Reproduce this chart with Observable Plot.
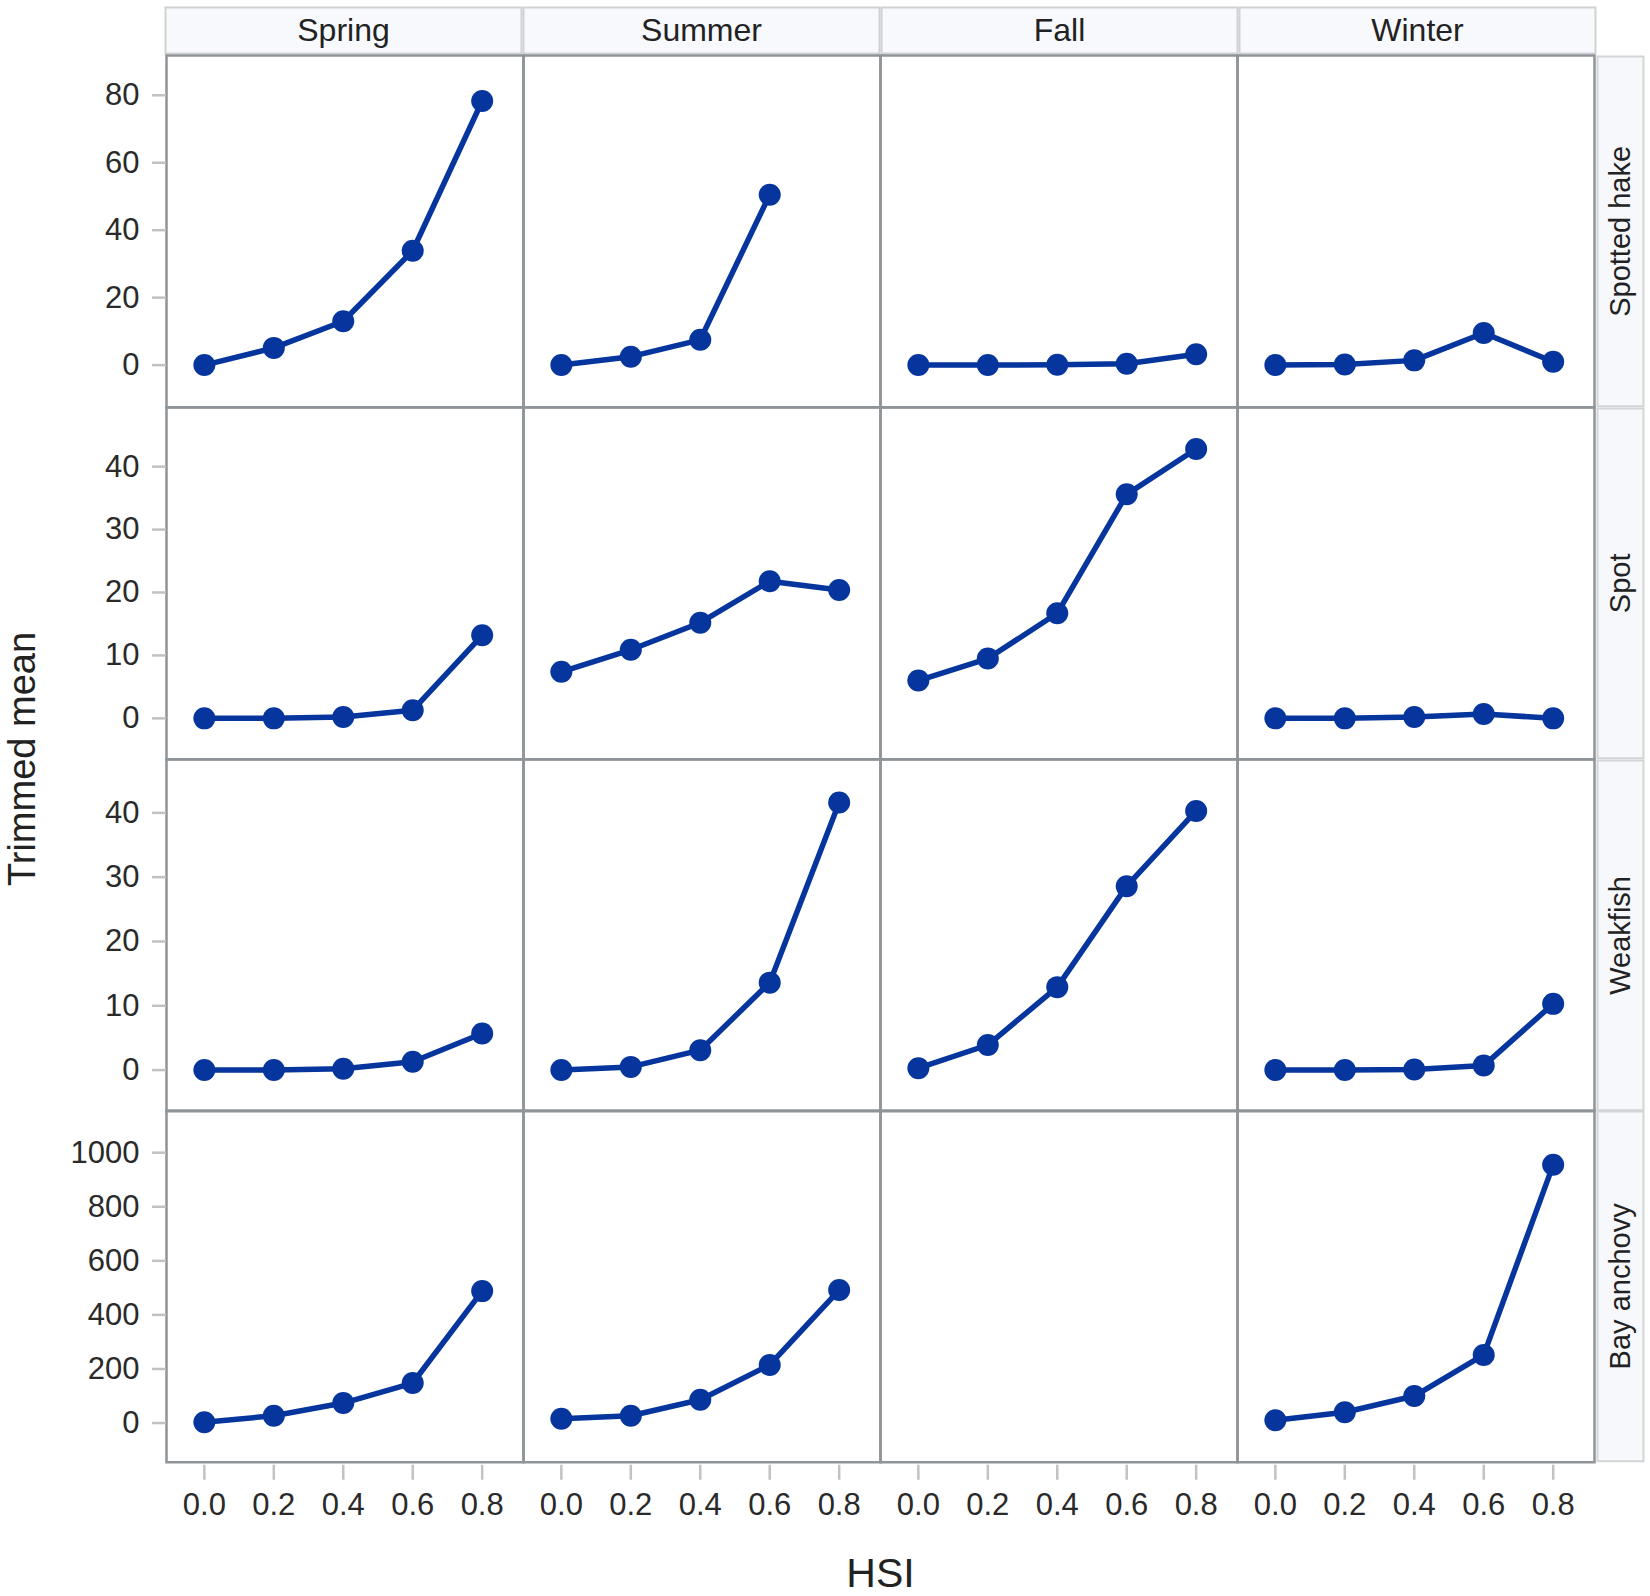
<!DOCTYPE html>
<html>
<head>
<meta charset="utf-8">
<script src="https://cdn.jsdelivr.net/npm/d3@7"></script>
<script src="https://cdn.jsdelivr.net/npm/@observablehq/plot@0.6"></script>
<style>
  body { margin: 0; background: #fff; }
  #chart { position: relative; width: 1650px; height: 1596px; background: #fff; overflow: hidden; }
  #chart > svg { position: absolute; }
</style>
</head>
<body>
<div id="chart"></div>
<script>
// ---------------- data ----------------
const seasons = ["Spring", "Summer", "Fall", "Winter"];
const species = ["Spotted hake", "Spot", "Weakfish", "Bay anchovy"];
const hsi = [0.0, 0.2, 0.4, 0.6, 0.8];
const xTicks = [0.0, 0.2, 0.4, 0.6, 0.8];

// Trimmed mean by HSI; one inner array per season (Spring, Summer, Fall, Winter)
const spottedHake = [
  [0, 5.1, 13.0, 33.9, 78.3],
  [0, 2.5, 7.5, 50.5, null],
  [0, 0, 0.1, 0.4, 3.2],
  [0, 0.2, 1.4, 9.5, 1.0]
];
const spot = [
  [0, 0, 0.2, 1.3, 13.2],
  [7.4, 10.9, 15.2, 21.8, 20.4],
  [6.0, 9.5, 16.7, 35.6, 42.8],
  [0, 0, 0.2, 0.7, 0]
];
const weakfish = [
  [0, 0, 0.2, 1.3, 5.7],
  [0, 0.5, 3.1, 13.6, 41.6],
  [0.3, 3.9, 12.9, 28.6, 40.3],
  [0, 0, 0.1, 0.7, 10.3]
];
const bayAnchovy = [
  [3, 27, 74, 148, 488],
  [16, 27, 86, 215, 492],
  [null, null, null, null, null],
  [10, 40, 100, 252, 955]
];

const ticksSpottedHake = [0, 20, 40, 60, 80];
const ticksSpot = [0, 10, 20, 30, 40];
const ticksWeakfish = [0, 10, 20, 30, 40];
const ticksBayAnchovy = [0, 200, 400, 600, 800, 1000];

const xLabel = "HSI";
const yLabel = "Trimmed mean";

// ---------------- layout / style ----------------
const rows = [
  {name: species[0], values: spottedHake, ticks: ticksSpottedHake, domain: [-12.5, 91.8]},
  {name: species[1], values: spot,        ticks: ticksSpot,        domain: [-6.5, 49.4]},
  {name: species[2], values: weakfish,    ticks: ticksWeakfish,    domain: [-6.4, 48.3]},
  {name: species[3], values: bayAnchovy,  ticks: ticksBayAnchovy,  domain: [-145, 1156]}
];

const W = 1650, H = 1596;
const left = 165, plotW = 1596, top0 = 55, rowH = 351.75;
const blue = "#05359d";
const font = "'Liberation Sans', Arial, sans-serif";
const baseStyle = {fontFamily: font, background: "transparent", overflow: "visible", maxWidth: "none"};
const chart = document.getElementById("chart");

function place(svg, x, y) {
  svg.style.left = x + "px";
  svg.style.top = y + "px";
  chart.appendChild(svg);
}

// column headers
place(Plot.plot({
  width: plotW, height: 55,
  marginLeft: left, marginRight: 1, marginTop: 7, marginBottom: 2,
  fx: {domain: seasons, padding: 0.006, axis: null},
  style: baseStyle,
  marks: [
    Plot.frame({fill: "#f8f9fd", stroke: "#cfd1d5", strokeWidth: 2}),
    Plot.text(seasons, {fx: d => d, text: d => d, frameAnchor: "middle", fontSize: 32, fill: "#222"})
  ]
}), 0, 0);

// panel rows
rows.forEach((r, i) => {
  const last = i === rows.length - 1;
  const top = top0 + i * rowH - 2;
  const height = last ? H - top : rowH + 4;
  const data = [];
  seasons.forEach((s, j) => r.values[j].forEach((v, k) => {
    if (v != null) data.push({season: s, hsi: hsi[k], value: v});
  }));
  const marks = [
    Plot.frame({stroke: "#8f9499", strokeWidth: 2.5, facetAnchor: "bottom"}),
    Plot.axisY({ticks: r.ticks, tickFormat: d => String(d), tickSize: 14, tickPadding: 13, stroke: "#c2c2c2", strokeWidth: 2.5,
      fill: "#2a2a2a", fontSize: 31, label: null, facetAnchor: "left"}),
    Plot.line(data, {fx: "season", x: "hsi", y: "value", stroke: blue, strokeWidth: 5.5}),
    Plot.dot(data, {fx: "season", x: "hsi", y: "value", r: 11, fill: blue})
  ];
  if (last) {
    marks.push(Plot.axisX({ticks: xTicks, tickFormat: d3.format(".1f"), tickSize: 15, tickPadding: 13, dy: 3,
      stroke: "#c2c2c2", strokeWidth: 2.5, fill: "#2a2a2a", fontSize: 31, label: null, facetAnchor: "bottom"}));
  }
  const svg = Plot.plot({
    width: plotW, height,
    marginLeft: left, marginRight: 1, marginTop: 2, marginBottom: height - rowH - 2,
    fx: {domain: seasons, padding: 0, axis: null},
    x: {domain: [-0.109, 0.919], axis: null},
    y: {domain: r.domain},
    style: baseStyle,
    marks
  });
  place(svg, 0, top);

  // row strip on the right
  place(Plot.plot({
    width: 48, height: rowH, margin: 0,
    style: baseStyle,
    marks: [
      Plot.frame({fill: "#f7f8fc", stroke: "#d2d4d8", strokeWidth: 2, inset: 1}),
      Plot.text([r.name], {text: d => d, frameAnchor: "middle", rotate: -90, fontSize: 29, fill: "#222"})
    ]
  }), plotW, top0 + i * rowH);
});

// y title
place(Plot.plot({
  width: 44, height: rowH * 4, margin: 0, style: baseStyle,
  marks: [Plot.text([yLabel], {text: d => d, frameAnchor: "middle", rotate: -90, fontSize: 38, fill: "#222"})]
}), 0, top0);

// x title
place(Plot.plot({
  width: 1430, height: 50, margin: 0, style: baseStyle,
  marks: [Plot.text([xLabel], {text: d => d, frameAnchor: "middle", fontSize: 41, fill: "#222"})]
}), left, 1548);
</script>
</body>
</html>
